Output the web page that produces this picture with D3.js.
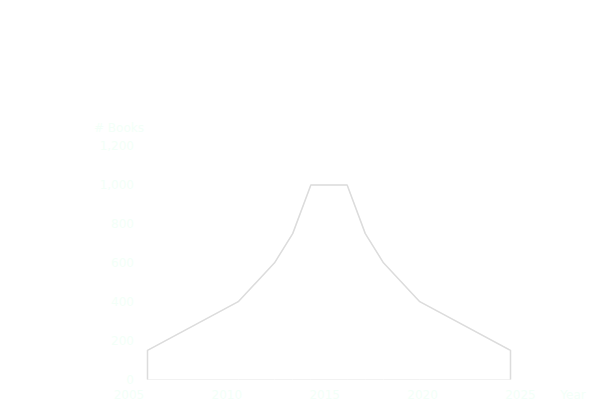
<!DOCTYPE html>
<html>
<head>
<meta charset="utf-8">
<script src="https://cdn.jsdelivr.net/npm/d3@7"></script>
<style>
  html, body { margin: 0; padding: 0; background: #ffffff; }
  svg { display: block; }
  text { font-family: "DejaVu Sans", sans-serif; }
</style>
</head>
<body>
<svg id="chart" width="610" height="406"></svg>
<script>
// ---- data ----
const steps = [0, 5, 7, 8, 9, 11, 12, 13, 15, 20];        // position along the x span
const books = [150, 400, 600, 750, 1000, 1000, 750, 600, 400, 150];
const yearTicks = [2005, 2010, 2015, 2020, 2025];
const bookTicks = [0, 200, 400, 600, 800, 1000, 1200];

const svg = d3.select("#chart");
const textColor = "#f3fff8";

const x = d3.scaleLinear().domain([0, 20]).range([147.5, 510.5]);
const xAxisScale = d3.scaleLinear().domain([2005, 2025]).range([129, 520.5]);
const y = d3.scaleLinear().domain([0, 1000]).range([379.5, 185]);

const pts = steps.map((s, i) => ({ s, v: books[i] }));

const area = d3.area()
  .x(d => x(d.s))
  .y0(y(0))
  .y1(d => y(d.v));

svg.append("path")
  .datum(pts)
  .attr("d", area)
  .attr("fill", "#ffffff")
  .attr("stroke", "#f2f2f2")
  .attr("stroke-width", 1);

const outline = [{ s: steps[0], v: 0 }, ...pts, { s: steps[steps.length - 1], v: 0 }];
svg.append("path")
  .datum(outline)
  .attr("d", d3.line().x(d => x(d.s)).y(d => y(d.v)))
  .attr("fill", "none")
  .attr("stroke", "#dcdcdc")
  .attr("stroke-width", 1.5)
  .attr("stroke-linejoin", "round");

// y labels
svg.append("g").selectAll("text")
  .data(bookTicks)
  .join("text")
  .attr("x", 134)
  .attr("y", d => y(d))
  .attr("dy", "0.35em")
  .attr("text-anchor", "end")
  .attr("font-size", 12)
  .attr("fill", textColor)
  .text(d => d3.format(",")(d));

svg.append("text")
  .attr("x", 119)
  .attr("y", 127.5)
  .attr("dy", "0.35em")
  .attr("text-anchor", "middle")
  .attr("font-size", 12)
  .attr("fill", textColor)
  .text("# Books");

// x labels
svg.append("g").selectAll("text")
  .data(yearTicks)
  .join("text")
  .attr("x", d => xAxisScale(d))
  .attr("y", 394.5)
  .attr("dy", "0.35em")
  .attr("text-anchor", "middle")
  .attr("font-size", 12)
  .attr("fill", textColor)
  .text(d => d);

svg.append("text")
  .attr("x", 573)
  .attr("y", 394.5)
  .attr("dy", "0.35em")
  .attr("text-anchor", "middle")
  .attr("font-size", 12)
  .attr("fill", textColor)
  .text("Year");
</script>
</body>
</html>
